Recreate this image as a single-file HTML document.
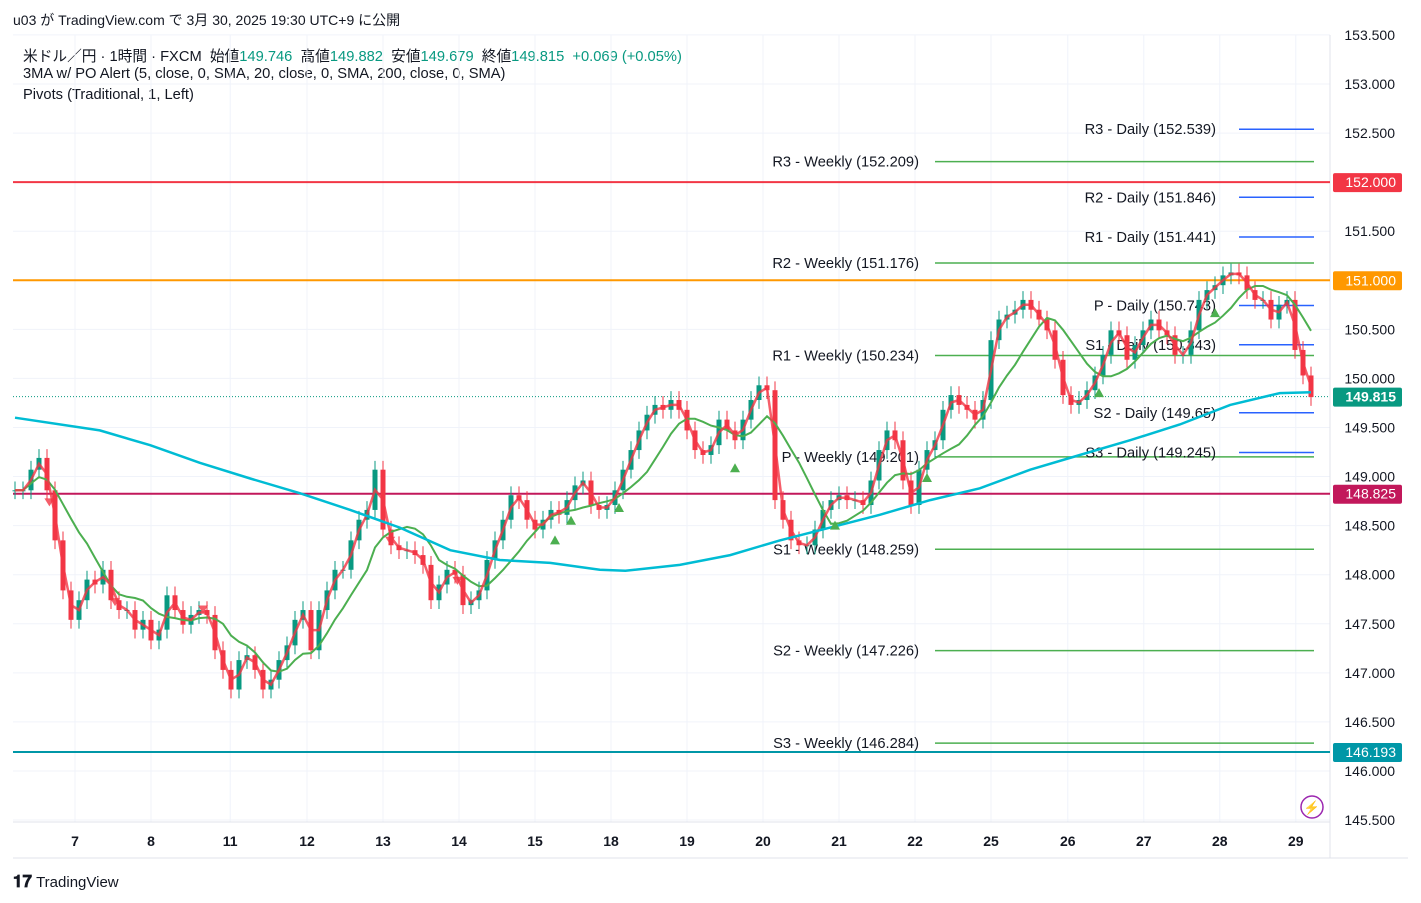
<!DOCTYPE html>
<html><head><meta charset="utf-8"><style>
body{margin:0;background:#fff;font-family:"Liberation Sans","Noto Sans CJK JP",sans-serif;}
#wrap{position:relative;width:1421px;height:903px;overflow:hidden;background:#fff}
.t{position:absolute;font-size:14.7px;color:#131722;white-space:nowrap}
</style></head><body>
<div id="wrap">
<div class="t" style="left:13px;top:10px;font-size:14px">u03 が TradingView.com で 3月 30, 2025 19:30 UTC+9 に公開</div>
<div class="t" style="left:23px;top:45px">米ドル／円 · 1時間 · FXCM&nbsp; 始値<span style="color:#089981">149.746</span>&nbsp; 高値<span style="color:#089981">149.882</span>&nbsp; 安値<span style="color:#089981">149.679</span>&nbsp; 終値<span style="color:#089981">149.815</span>&nbsp; <span style="color:#089981">+0.069 (+0.05%)</span></div>
<div class="t" style="left:23px;top:66px">3MA w/ PO Alert (5, close, 0, SMA, 20, close, 0, SMA, 200, close, 0, SMA)</div>
<div class="t" style="left:23px;top:87px">Pivots (Traditional, 1, Left)</div>
<svg id="chart" width="1421" height="903" style="position:absolute;left:0;top:0"></svg>
<div class="t" style="left:13px;top:872px;font-size:15px;font-weight:bold"><span style="font-size:17px">𝟏𝟕</span> <span style="font-weight:normal">TradingView</span></div>
</div>
<script>
const closes=[148.86,148.86,149.07,149.19,148.86,148.35,147.84,147.54,147.74,147.95,147.90,148.05,147.74,147.64,147.64,147.44,147.54,147.33,147.44,147.79,147.64,147.49,147.59,147.64,147.59,147.23,147.03,146.83,147.13,147.18,147.03,146.83,146.93,147.13,147.28,147.54,147.64,147.23,147.64,147.84,148.05,148.05,148.35,148.56,148.66,149.07,148.46,148.30,148.25,148.25,148.20,148.10,147.74,147.90,148.05,148.00,147.69,147.74,147.84,148.15,148.35,148.56,148.81,148.76,148.56,148.46,148.56,148.66,148.61,148.76,148.91,148.96,148.71,148.66,148.71,148.86,149.07,149.27,149.47,149.63,149.73,149.68,149.78,149.68,149.47,149.27,149.22,149.32,149.58,149.47,149.37,149.58,149.78,149.93,149.88,148.76,148.56,148.35,148.30,148.30,148.46,148.66,148.76,148.81,148.76,148.76,148.71,148.96,149.27,149.47,149.37,148.96,148.71,149.07,149.27,149.37,149.68,149.83,149.73,149.68,149.58,149.78,150.39,150.60,150.65,150.70,150.80,150.70,150.60,150.49,150.19,149.83,149.73,149.78,149.88,150.03,150.24,150.49,150.44,150.19,150.34,150.49,150.60,150.49,150.44,150.24,150.24,150.49,150.80,150.90,150.95,151.05,151.08,151.05,150.90,150.80,150.80,150.60,150.75,150.80,150.29,150.03,149.81];
const sma200Idx=[0,10.6,16.9,23.1,29.4,35.6,41.9,48.1,54.4,60.6,66.9,73.1,76.3,83.1,89.4,95.6,101.9,108.1,114.4,120.6,126.9,133.1,139.4,145.6,151.9,158.1,162];
const sma200Val=[149.60,149.47,149.32,149.14,148.98,148.83,148.66,148.48,148.25,148.15,148.12,148.05,148.04,148.10,148.20,148.35,148.48,148.61,148.76,148.88,149.07,149.22,149.37,149.53,149.73,149.85,149.86];
const dayLabels=["7","8","11","12","13","14","15","18","19","20","21","22","25","26","27","28","29"];
const dayIdx=[7.5,17,26.9,36.5,46,55.5,65,74.5,84,93.5,103,112.5,122,131.6,141.1,150.6,160.1];
const priceTicks=[153.5,153,152.5,152,151.5,151,150.5,150,149.5,149,148.5,148,147.5,147,146.5,146,145.5];
const hLevels=[152.000,151.000,148.825,146.193];
const hColors=["#f23645","#ff9800","#c2185b","#0097a7"];
const weeklyNames=["R3","R2","R1","P","S1","S2","S3"];
const weeklyVals=[152.209,151.176,150.234,149.201,148.259,147.226,146.284];
const dailyVals=[152.539,151.846,151.441,150.743,150.343,149.65,149.245];
const dailyText=["152.539","151.846","151.441","150.743","150.343","149.65","149.245"];
const downMarks=[4.3,12.5,23.5,46.9,55.3];
const upMarks=[67.5,69.5,75.5,90,102.5,114,135.5,150];
const lastPrice=149.815;

const svg=document.getElementById('chart');
const NS='http://www.w3.org/2000/svg';
const X0=15,DX=8,PR=98.14;
const x=i=>X0+i*DX;
const y=p=>84+(153-p)*PR;
function mk(tag,at,parent){const e=document.createElementNS(NS,tag);for(const k in at)e.setAttribute(k,at[k]);(parent||svg).appendChild(e);return e;}
function interp(i){const a=Math.floor(i),b=Math.min(closes.length-1,a+1),f=i-a;return closes[a]*(1-f)+closes[b]*f;}
// grid
priceTicks.forEach(p=>{const g=mk('line',{x1:13,x2:1330,y1:y(p),y2:y(p),stroke:'#f0f3fa','stroke-width':1});

});
dayIdx.forEach(d=>{const g=mk('line',{x1:x(d),x2:x(d),y1:35,y2:822,stroke:'#f0f3fa','stroke-width':1});

});
// frame
mk('line',{x1:13,x2:1408,y1:858,y2:858,stroke:'#e0e3eb'});
mk('line',{x1:1330,x2:1330,y1:35,y2:858,stroke:'#e0e3eb'});
mk('line',{x1:13,x2:1330,y1:822,y2:822,stroke:'#e0e3eb'});
// price axis ticks
priceTicks.forEach(p=>{const t=mk('text',{x:1395,y:y(p)+5,'text-anchor':'end','font-size':14,fill:'#131722','font-family':'Liberation Sans'});t.textContent=p.toFixed(3);

});
// horizontal levels
hLevels.forEach((p,i)=>{const l=mk('line',{x1:13,x2:1330,y1:y(p),y2:y(p),stroke:hColors[i],'stroke-width':2});


const r=mk('rect',{x:1333,y:y(p)-9,width:69,height:19,rx:2,fill:hColors[i]});


const t=mk('text',{x:1396,y:y(p)+5,'text-anchor':'end','font-size':14,fill:'#fff','font-family':'Liberation Sans'});t.textContent=p.toFixed(3);

});
// last price dotted
mk('line',{x1:13,x2:1330,y1:y(lastPrice),y2:y(lastPrice),stroke:'#089981','stroke-dasharray':'1 2'});
// weekly pivots
weeklyVals.forEach((p,i)=>{const l=mk('line',{x1:935,x2:1314,y1:y(p),y2:y(p),stroke:'#4caf50','stroke-width':1.5});


const t=mk('text',{x:919,y:y(p)+5,'text-anchor':'end','font-size':14.7,fill:'#131722','font-family':'Liberation Sans'});t.textContent=weeklyNames[i]+' - Weekly ('+p.toFixed(3)+')';

});
dailyVals.forEach((p,i)=>{const l=mk('line',{x1:1239,x2:1314,y1:y(p),y2:y(p),stroke:'#2962ff','stroke-width':1.5});


const t=mk('text',{x:1216,y:y(p)+5,'text-anchor':'end','font-size':14.7,fill:'#131722','font-family':'Liberation Sans'});t.textContent=weeklyNames[i]+' - Daily ('+dailyText[i]+')';

});
// candles
closes.forEach((c,i)=>{const o=i?closes[i-1]:c;const up=c>=o;const col=up?'#089981':'#f23645';
const hi=Math.max(o,c)+0.09,lo=Math.min(o,c)-0.09;
const g=mk('g',{});


mk('line',{x1:x(i),x2:x(i),y1:y(hi),y2:y(lo),stroke:col,'stroke-width':1},g);
mk('rect',{x:x(i)-2.5,y:y(Math.max(o,c)),width:5,height:Math.max(1,Math.abs(y(o)-y(c))),fill:col},g);});
// moving averages
function sma(n){return closes.map((_,i)=>{let s=0,k=0;for(let j=Math.max(0,i-n+1);j<=i;j++){s+=closes[j];k++;}return s/k;});}
function path(vals,idx){return vals.map((v,i)=>(i?'L':'M')+x(idx?idx[i]:i).toFixed(1)+' '+y(v).toFixed(1)).join(' ');}
const m20=mk('path',{d:path(sma(8)),fill:'none',stroke:'#4caf50','stroke-width':2});


const m5=mk('path',{d:path(sma(2)),fill:'none',stroke:'#f23645','stroke-opacity':0.8,'stroke-width':2.5});


const m200=mk('path',{d:path(sma200Val,sma200Idx),fill:'none',stroke:'#00bcd4','stroke-width':2.5});


// cross markers
downMarks.forEach(i=>{const cx=x(i),cy=y(interp(i))-3;const m=mk('path',{d:`M${cx-5} ${cy-4}L${cx+5} ${cy-4}L${cx} ${cy+4}Z`,fill:'#f23645','fill-opacity':0.8});

});
upMarks.forEach(i=>{const cx=x(i),cy=y(interp(i))+28;const m=mk('path',{d:`M${cx-5} ${cy+4}L${cx+5} ${cy+4}L${cx} ${cy-5}Z`,fill:'#4caf50'});

});
const lb=mk('rect',{x:1333,y:y(lastPrice)-9,width:69,height:19,rx:2,fill:'#089981'});


const lt=mk('text',{x:1396,y:y(lastPrice)+5,'text-anchor':'end','font-size':14,'font-weight':'bold',fill:'#fff','font-family':'Liberation Sans'});lt.textContent=lastPrice.toFixed(3);


// time axis
dayLabels.forEach((d,i)=>{const t=mk('text',{x:x(dayIdx[i]),y:846,'text-anchor':'middle','font-size':14,'font-weight':'bold',fill:'#131722','font-family':'Liberation Sans'});t.textContent=d;

});
// bolt icon
const bc=mk('circle',{cx:1312,cy:807,r:11,fill:'none',stroke:'#9c27b0','stroke-width':1.5});


const bt=mk('text',{x:1312,y:812,'text-anchor':'middle','font-size':13,fill:'#9c27b0'});bt.textContent='⚡';


</script>
</body></html>
